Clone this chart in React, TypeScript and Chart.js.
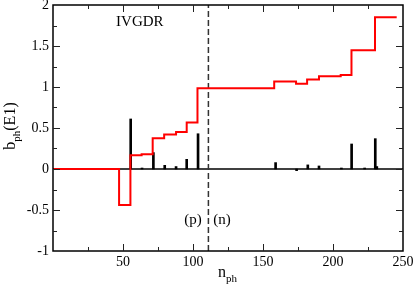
import React, { useEffect, useRef } from "react";
import { Chart, registerables } from "chart.js";

Chart.register(...registerables);

// Red step curve b_ph(E1) vs n_ph (step starts)
const stepX = [0, 47.2, 55.3, 63.3, 71.2, 79.4, 87.9, 95.5, 103.2, 158, 173.6, 181.5, 190, 205.5, 213.2, 230, 245.5];
const stepY = [0, -0.44, 0.167, 0.18, 0.374, 0.42, 0.45, 0.566, 0.985, 1.068, 1.04, 1.092, 1.13, 1.145, 1.448, 1.85, 1.85];

// Black impulses
const barX = [55.5, 63.6, 71.7, 79.8, 87.9, 95.5, 103.6, 159, 174, 182, 190, 206, 213.3, 222.6, 230.2, 231.3];
const barY = [0.61, 0.012, 0.2, 0.045, 0.03, 0.118, 0.43, 0.078, -0.02, 0.05, 0.037, 0.012, 0.305, 0.012, 0.37, 0.03];

// Reference lines
const zeroLineY = 0;
const dividerX = 111;

// Axis ranges / ticks
const xMin = 0, xMax = 250, xStep = 25, xLabelStep = 50;
const yMin = -1, yMax = 2, yStep = 0.25, yLabelStep = 0.5;

const SERIF = "'Liberation Serif', 'Times New Roman', serif";

function drawSubText(ctx: CanvasRenderingContext2D, main: string, sub: string, rest: string, x: number, y: number) {
  ctx.font = `16px ${SERIF}`;
  const w1 = ctx.measureText(main).width;
  ctx.font = `11px ${SERIF}`;
  const w2 = ctx.measureText(sub).width;
  ctx.font = `16px ${SERIF}`;
  const w3 = ctx.measureText(rest).width;
  const total = w1 + w2 + w3;
  let sx = x - total / 2;
  ctx.textAlign = "left";
  ctx.textBaseline = "alphabetic";
  ctx.font = `16px ${SERIF}`;
  ctx.fillText(main, sx, y);
  sx += w1;
  ctx.font = `11px ${SERIF}`;
  ctx.fillText(sub, sx, y + 5);
  sx += w2;
  ctx.font = `16px ${SERIF}`;
  ctx.fillText(rest, sx, y);
}

const decor = {
  id: "decor",
  afterDatasetsDraw(chart: any) {
    const { ctx, chartArea: a, scales } = chart;
    const x = scales.x, y = scales.y;
    ctx.save();
    ctx.strokeStyle = "#000";
    ctx.lineWidth = 1.5;
    ctx.strokeRect(a.left, a.top, a.right - a.left, a.bottom - a.top);
    ctx.lineWidth = 1;
    ctx.strokeStyle = "#222";
    const line = (x1: number, y1: number, x2: number, y2: number) => {
      ctx.beginPath();
      ctx.moveTo(x1, y1);
      ctx.lineTo(x2, y2);
      ctx.stroke();
    };
    for (let v = xMin + xStep; v < xMax - 1e-6; v += xStep) {
      const px = Math.round(x.getPixelForValue(v)) + 0.5;
      const len = Math.abs(v / xLabelStep - Math.round(v / xLabelStep)) < 1e-6 ? 7 : 4;
      line(px, a.bottom, px, a.bottom - len);
      line(px, a.top, px, a.top + len);
    }
    for (let v = yMin + yStep; v < yMax - 1e-6; v += yStep) {
      const py = Math.round(y.getPixelForValue(v)) + 0.5;
      const len = Math.abs(v / yLabelStep - Math.round(v / yLabelStep)) < 1e-6 ? 7 : 4;
      line(a.left, py, a.left + len, py);
      line(a.right, py, a.right - len, py);
    }
    ctx.fillStyle = "#000";
    ctx.textAlign = "center";
    ctx.textBaseline = "middle";
    ctx.font = `15px ${SERIF}`;
    ctx.fillText("IVGDR", x.getPixelForValue(62), y.getPixelForValue(1.79));
    ctx.fillText("(p)", x.getPixelForValue(100), y.getPixelForValue(-0.625));
    ctx.fillText("(n)", x.getPixelForValue(120.7), y.getPixelForValue(-0.625));

    // x title
    drawSubText(ctx, "n", "ph", "", 227.5, 277);
    // y title
    ctx.save();
    ctx.translate(15, 126);
    ctx.rotate(-Math.PI / 2);
    drawSubText(ctx, "b", "ph", "(E1)", 0, 0);
    ctx.restore();
    ctx.restore();
  },
};

export default function App() {
  const ref = useRef<HTMLCanvasElement>(null);
  useEffect(() => {
    document.body.style.margin = "0";
    const stepData = stepX.map((v, i) => ({ x: v, y: stepY[i] }));
    const barData = barX.map((v, i) => ({ x: v, y: barY[i] }));
    const chart = new Chart(ref.current as HTMLCanvasElement, {
      type: "bar",
      data: {
        datasets: [
          {
            type: "line",
            data: stepData,
            borderColor: "#ff0000",
            borderWidth: 2,
            stepped: "before",
            pointRadius: 0,
            fill: false,
            order: 0,
          } as any,
          {
            type: "line",
            data: [{ x: dividerX, y: yMin }, { x: dividerX, y: yMax }],
            borderColor: "#333",
            borderWidth: 1.5,
            borderDash: [6, 3],
            pointRadius: 0,
            fill: false,
            order: 1,
          } as any,
          {
            type: "bar",
            data: barData,
            backgroundColor: "#000",
            borderWidth: 0,
            barThickness: 2,
            order: 2,
          } as any,
          {
            type: "line",
            data: [{ x: xMin, y: zeroLineY }, { x: xMax, y: zeroLineY }],
            borderColor: "#000",
            borderWidth: 1.5,
            pointRadius: 0,
            fill: false,
            order: 3,
          } as any,
        ],
      },
      options: {
        responsive: false,
        animation: false,
        events: [],
        layout: { padding: { top: 5, right: 12, left: 0, bottom: 0 } },
        plugins: { legend: { display: false }, tooltip: { enabled: false } },
        scales: {
          x: {
            type: "linear",
            min: xMin,
            max: xMax,
            offset: false,
            grid: { display: false, drawTicks: false },
            border: { display: false },
            ticks: {
              stepSize: xStep,
              autoSkip: false,
              maxRotation: 0,
              padding: 3,
              color: "#000",
              font: { family: SERIF, size: 14 },
              callback: (v: any) => {
                const n = Number(v);
                return n > 0 && Math.abs(n / xLabelStep - Math.round(n / xLabelStep)) < 1e-6 ? String(Math.round(n)) : "";
              },
            },
            afterFit: (s: any) => {
              s.height = 35;
              s.paddingLeft = 0;
              s.paddingRight = 0;
            },
          },
          y: {
            type: "linear",
            min: yMin,
            max: yMax,
            grid: { display: false, drawTicks: false },
            border: { display: false },
            ticks: {
              stepSize: yStep,
              autoSkip: false,
              padding: 4,
              color: "#000",
              font: { family: SERIF, size: 14 },
              callback: (v: any) => {
                const n = Number(v);
                return Math.abs(n / yLabelStep - Math.round(n / yLabelStep)) < 1e-6 ? String(Math.round(n * 2) / 2) : "";
              },
            },
            afterFit: (s: any) => {
              s.width = 53;
              s.paddingTop = 0;
              s.paddingBottom = 0;
            },
          },
        },
      },
      plugins: [decor],
    });
    return () => chart.destroy();
  }, []);
  return (
    <div style={{ width: 415, height: 286 }}>
      <canvas ref={ref} width={415} height={286} style={{ display: "block", width: 415, height: 286 }} />
    </div>
  );
}
